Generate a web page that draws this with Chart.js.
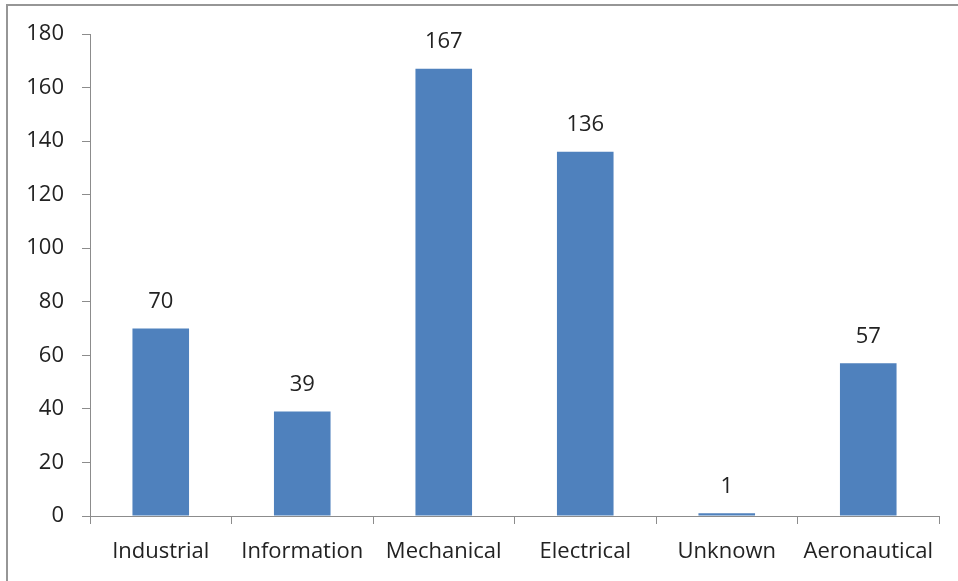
<!DOCTYPE html>
<html>
<head>
<meta charset="utf-8">
<script src="https://cdn.jsdelivr.net/npm/chart.js@4/dist/chart.umd.min.js"></script>
<style>
  html, body { margin: 0; padding: 0; background: #fff; overflow: hidden; }
  .frame { position: absolute; left: 6px; top: 4px; width: 1000px; height: 700px;
           border-top: 2px solid #969696; border-left: 2px solid #969696; }
  .wrap { position: absolute; left: 0; top: 0; width: 958px; height: 581px; }
</style>
</head>
<body>
<div class="frame"></div>
<div class="wrap"><canvas id="myChart"></canvas></div>
<script>
var categories = ["Industrial", "Information", "Mechanical", "Electrical", "Unknown", "Aeronautical"];
var values = [70, 39, 167, 136, 1, 57];
var yTicks = [0, 20, 40, 60, 80, 100, 120, 140, 160, 180];
var barColor = "#4f81bd";
var fontName = "'Open Sans', 'Noto Sans', sans-serif";

// labels above each bar
var valueLabels = {
  id: "valueLabels",
  afterDatasetsDraw: function(chart) {
    var ctx = chart.ctx;
    var meta = chart.getDatasetMeta(0);
    ctx.save();
    ctx.font = "22px " + fontName;
    ctx.fillStyle = "#222";
    ctx.textAlign = "center";
    ctx.textBaseline = "middle";
    meta.data.forEach(function(bar, i) {
      ctx.fillText(values[i], bar.x, bar.y - 27);
    });
    ctx.restore();
  }
};

new Chart("myChart", {
  type: "bar",
  data: {
    labels: categories,
    datasets: [{
      backgroundColor: barColor,
      data: values,
      categoryPercentage: 1,
      barPercentage: 0.4
    }]
  },
  options: {
    responsive: true,
    maintainAspectRatio: false,
    animation: false,
    layout: { padding: { left: 0, top: 34, right: 19, bottom: 0 } },
    plugins: {
      legend: { display: false },
      tooltip: { enabled: false }
    },
    scales: {
      x: {
        afterFit: function(s) { s.height = 65; },
        grid: { offset: true, drawOnChartArea: false, tickLength: 8, color: "#8c8c8c" },
        border: { color: "#8c8c8c", width: 1 },
        ticks: { color: "#222", font: { family: fontName, size: 22 }, padding: 15, maxRotation: 0 }
      },
      y: {
        min: 0,
        max: 180,
        afterFit: function(s) { s.width = 90; },
        afterBuildTicks: function(s) { s.ticks = yTicks.map(function(v) { return { value: v }; }); },
        grid: { drawOnChartArea: false, tickLength: 8, color: "#8c8c8c" },
        border: { color: "#8c8c8c", width: 1 },
        ticks: { color: "#222", font: { family: fontName, size: 22 }, padding: 18 }
      }
    }
  },
  plugins: [valueLabels]
});
</script>
</body>
</html>
